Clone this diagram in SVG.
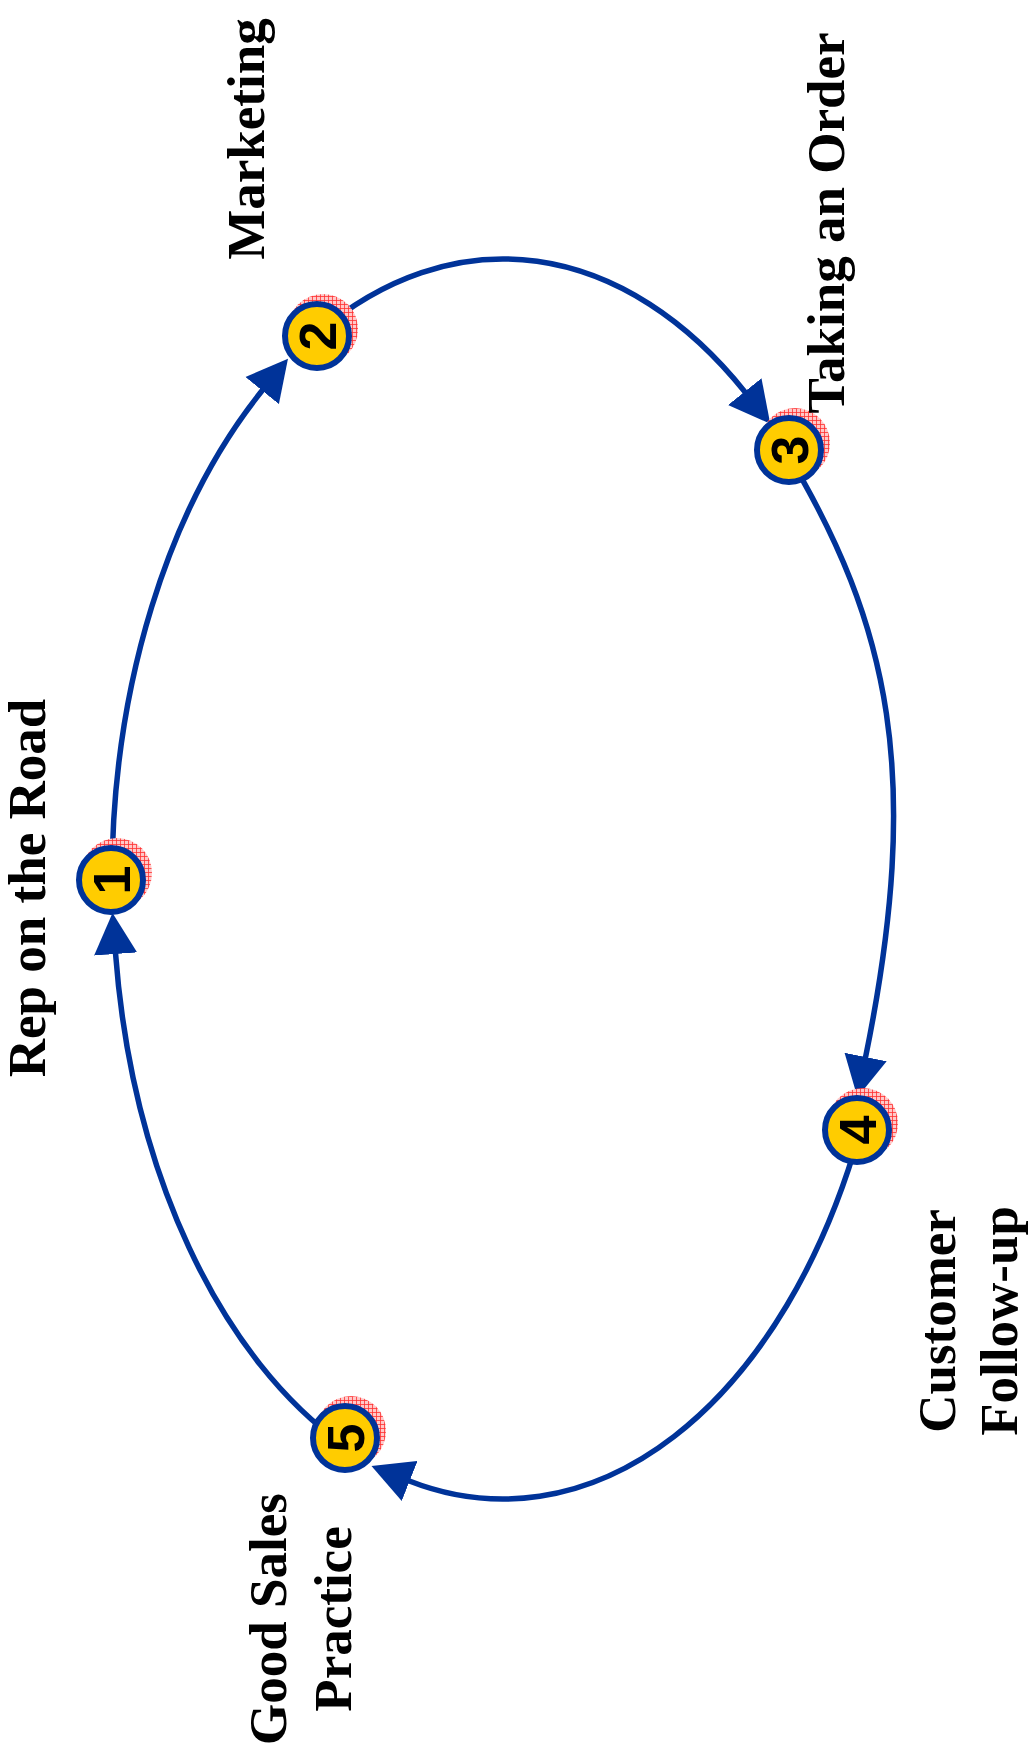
<svg xmlns="http://www.w3.org/2000/svg" width="1029" height="1758" viewBox="0 0 1029 1758">
<style>
.arc{fill:none;stroke:#003399;stroke-width:5.5;marker-end:url(#ah)}
.ring{fill:#FFCC00;stroke:#003399;stroke-width:6}
.shadow{fill:url(#hatch)}
.num{font-family:"Liberation Sans",Arial,sans-serif;font-weight:bold;font-size:52px;fill:#000;text-anchor:middle}
.lbl{font-family:"Liberation Serif","Times New Roman",serif;font-weight:bold;font-size:53px;fill:#000;text-anchor:middle}
</style>
<defs>
<pattern id="hatch" width="4" height="4" patternUnits="userSpaceOnUse">
<rect width="4" height="4" fill="#ffc8c8"/>
<path d="M0,0.5H4M0.5,0V4" stroke="#ff3030" stroke-width="0.8"/>
</pattern>
<marker id="ah" markerUnits="userSpaceOnUse" viewBox="0 -22 42 44" refX="1" refY="0" markerWidth="42" markerHeight="44" orient="auto">
<path d="M0,-21.5L41,0L0,21.5Z" fill="#003399"/>
</marker>
</defs>
<rect width="1029" height="1758" fill="#fff"/>
<g id="connectors">
<path class="arc" d="M112,879 A391,620 0 0 1 262.8,389.8"/>
<path class="arc" d="M317.6,333.1 A391,620 0 0 1 745.3,392.4"/>
<path class="arc" d="M787,453 C889.4,624.8 923.4,773.8 865.4,1058"/>
<path class="arc" d="M859.9,1132.1 A391,620 0 0 1 408.7,1480.7"/>
<path class="arc" d="M344.6,1445.9 A391,620 0 0 1 115.5,953"/>
</g>
<g id="node1">
<circle class="shadow" cx="117" cy="873" r="35"/>
<circle class="ring" cx="111" cy="880" r="32"/>
<text class="num" transform="translate(111,880) rotate(-90)" y="18.5">1</text>
<text class="lbl" transform="translate(45,888) rotate(-90)">Rep on the Road</text>
</g>
<g id="node2">
<circle class="shadow" cx="323" cy="329" r="35"/>
<circle class="ring" cx="317" cy="336" r="32"/>
<text class="num" transform="translate(317,336) rotate(-90)" y="18.5">2</text>
<text class="lbl" transform="translate(264,139) rotate(-90)">Marketing</text>
</g>
<g id="node3">
<circle class="shadow" cx="795" cy="443" r="35"/>
<circle class="ring" cx="789" cy="450" r="32"/>
<text class="num" transform="translate(789,450) rotate(-90)" y="18.5">3</text>
<text class="lbl" transform="translate(844,223) rotate(-90)">Taking an Order</text>
</g>
<g id="node4">
<circle class="shadow" cx="863" cy="1123" r="35"/>
<circle class="ring" cx="857" cy="1130" r="32"/>
<text class="num" transform="translate(857,1130) rotate(-90)" y="18.5">4</text>
<text class="lbl" transform="translate(955,1321) rotate(-90)">Customer</text>
<text class="lbl" transform="translate(1017,1321) rotate(-90)">Follow-up</text>
</g>
<g id="node5">
<circle class="shadow" cx="351" cy="1431" r="35"/>
<circle class="ring" cx="345" cy="1438" r="32"/>
<text class="num" transform="translate(345,1438) rotate(-90)" y="18.5">5</text>
<text class="lbl" transform="translate(286,1619) rotate(-90)">Good Sales</text>
<text class="lbl" transform="translate(351,1619) rotate(-90)">Practice</text>
</g>
</svg>
